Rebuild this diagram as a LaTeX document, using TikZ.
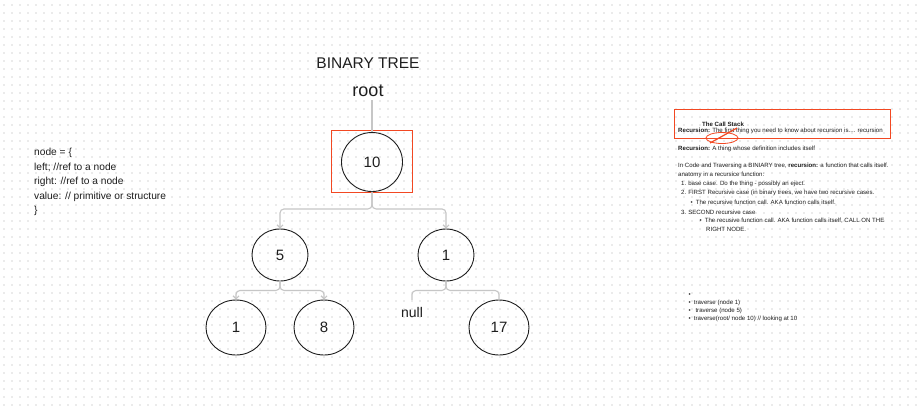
\documentclass[tikz,border=0pt]{standalone}
\usepackage{fontspec}
\setmainfont{Liberation Sans}
\usetikzlibrary{shapes.geometric,arrows.meta}
\definecolor{figred}{HTML}{F24822}
\definecolor{connc}{HTML}{C6C6C6}
\definecolor{dotc}{HTML}{EBEBEB}
\definecolor{ink}{HTML}{1E1E1E}
\begin{document}
\begin{tikzpicture}[x=1pt,y=-1pt,
 treenode/.style={ellipse,draw=ink,line width=0.9pt,inner sep=0pt,font=\fontsize{15}{18}\selectfont,text=ink},
 connline/.style={draw=connc,line width=1.1pt,rounded corners=4pt},
 arr/.style={-{Straight Barb[length=3pt,width=6pt]}},
 panel/.style={anchor=west,inner sep=0pt,font=\fontsize{6.1}{7}\selectfont,text=ink},
 code/.style={anchor=west,inner sep=0pt,font=\fontsize{10.2}{12}\selectfont,text=ink},
 redbox/.style={draw=figred,line width=1pt}]
\useasboundingbox (0,0) rectangle (922,405);
\fill[white] (0,0) rectangle (922,405);
\foreach \i in {0,...,114}{\foreach \j in {0,...,50}{\fill[dotc] (3+\i*8,4+\j*8) rectangle ++(1.8,1.8);}}

% titles
\node[font=\fontsize{15.5}{18}\selectfont,text=ink] (title) at (368,63) {BINARY TREE};
\node[font=\fontsize{18}{20}\selectfont,text=ink] (root) at (368,91) {root};

% selection box
\node[redbox,minimum width=81,minimum height=62,inner sep=0pt] (sel) at (371.5,161) {};

% tree nodes
\node[treenode,minimum width=61,minimum height=59] (n10) at (372,162) {10};
\node[treenode,minimum width=56,minimum height=52] (n5) at (280,255) {5};
\node[treenode,minimum width=56,minimum height=52] (n1r) at (446,255) {1};
\node[treenode,minimum width=60,minimum height=55] (n1l) at (236,327.5) {1};
\node[treenode,minimum width=60,minimum height=55] (n8) at (324,327.5) {8};
\node[treenode,minimum width=60,minimum height=55] (n17) at (499,327.5) {17};
\node[font=\fontsize{14}{16}\selectfont,text=ink,inner sep=3pt,outer sep=4pt] (null) at (412,312) {null};

% connectors
\draw[connline] (root.south -| n10.north) -- (n10.north);
\draw[connline,arr] (n10.south) -- ++(0,17) -| (n5.north);
\draw[connline,arr] (n10.south) -- ++(0,17) -| (n1r.north);
\draw[connline,arr] (n5.south) -- ++(0,9) -| (n1l.north);
\draw[connline,arr] (n5.south) -- ++(0,9) -| (n8.north);
\draw[connline] (n1r.south) -- ++(0,9) -| (null.north);
\draw[connline] (n1r.south) -- ++(0,9) -| (n17.north);

% code text
\node[code] (c1) at (34,153) {node = \{};
\node[code] (c2) at (34,167.5) {left; //ref to a node};
\node[code] (c3) at (34,182) {right: //ref to a node};
\node[code] (c4) at (34,196.5) {value: // primitive or structure};
\node[code] (c5) at (34,211) {\}};

% right panel
\node[redbox,minimum width=216,minimum height=29,inner sep=0pt] (callbox) at (782,123.5) {};
\node[panel] (cs) at (702,124.5) {\textbf{The Call Stack}};
\node[panel] (r1) at (678,131) {\textbf{Recursion:} The first thing you need to know about recursion is.... recursion};
\draw[figred,line width=0.8pt] (722,138) ellipse [x radius=16,y radius=5.5];
\draw[figred,line width=1.2pt] (710,143) -- (737,128);
\node[panel] (r2) at (678,149) {\textbf{Recursion:} A thing whose definition includes itself};
\node[panel] (r3) at (678,166) {In Code and Traversing a BINIARY tree, \textbf{recursion:} a function that calls itself.};
\node[panel] (r4) at (678,175) {anatomy in a recursice function:};
\node[panel] (r5) at (681,184) {1.\hspace{2pt}base case. Do the thing - possibly an eject.};
\node[panel] (r6) at (681,193) {2.\hspace{2pt}FIRST Recursive case (in binary trees, we have two recursive cases.};
\node[panel] (r7) at (690.5,202.5) {\textbullet\hspace{3pt}The recursive function call. AKA function calls itself.};
\node[panel] (r8) at (681,212) {3.\hspace{2pt}SECOND recursive case};
\node[panel] (r9) at (699.5,221) {\textbullet\hspace{3pt}The recusive function call. AKA function calls itself, CALL ON THE};
\node[panel] (r10) at (706,229.5) {RIGHT NODE.};

\node[panel] (b0) at (688.5,295) {\textbullet};
\node[panel] (b1) at (688.5,302.5) {\textbullet\hspace{3pt}traverse (node 1)};
\node[panel] (b2) at (688.5,310.5) {\textbullet\hspace{3pt} traverse (node 5)};
\node[panel] (b3) at (688.5,318.5) {\textbullet\hspace{3pt}traverse(root/ node 10) // looking at 10};
\end{tikzpicture}
\end{document}
